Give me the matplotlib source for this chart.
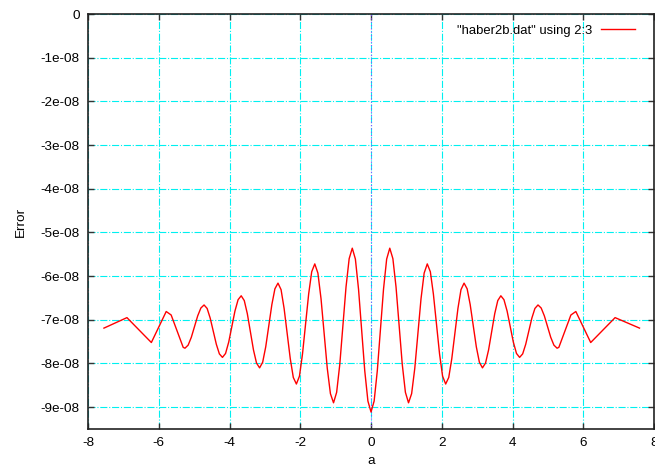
#! /usr/bin/env python3
import matplotlib
matplotlib.use("Agg")
import matplotlib.pyplot as plt
import numpy as np

plt.rcParams['font.family'] = ['Liberation Sans', 'DejaVu Sans']

# values, a vs Error (in units of 1e-8)
a_vals = [
    -7.55, -6.90, -6.21, -5.79, -5.65, -5.31,
    -5.26, -5.17, -5.08, -4.99, -4.90, -4.81,
    -4.72, -4.633, -4.547, -4.46, -4.373, -4.287,
    -4.20, -4.112, -4.023, -3.935, -3.847, -3.758,
    -3.67, -3.583, -3.497, -3.41, -3.323, -3.237,
    -3.15, -3.063, -2.977, -2.89, -2.803, -2.717,
    -2.63, -2.543, -2.457, -2.37, -2.283, -2.197,
    -2.11, -2.023, -1.937, -1.85, -1.763, -1.677,
    -1.59, -1.502, -1.413, -1.325, -1.237, -1.148,
    -1.06, -0.972, -0.883, -0.795, -0.707, -0.618,
    -0.53, -0.442, -0.353, -0.265, -0.177, -0.088,
    0.0,
    0.088, 0.177, 0.265, 0.353, 0.442, 0.53,
    0.618, 0.707, 0.795, 0.883, 0.972, 1.06,
    1.148, 1.237, 1.325, 1.413, 1.502, 1.59,
    1.677, 1.763, 1.85, 1.937, 2.023, 2.11,
    2.197, 2.283, 2.37, 2.457, 2.543, 2.63,
    2.717, 2.803, 2.89, 2.977, 3.063, 3.15,
    3.237, 3.323, 3.41, 3.497, 3.583, 3.67,
    3.758, 3.847, 3.935, 4.023, 4.112, 4.20,
    4.287, 4.373, 4.46, 4.547, 4.633, 4.72,
    4.81, 4.90, 4.99, 5.08, 5.17, 5.26,
    5.31, 5.65, 5.79, 6.21, 6.90, 7.59,
]
err_vals = [
    -7.19, -6.95, -7.52, -6.81, -6.89, -7.63,
    -7.65, -7.58, -7.40, -7.155, -6.91, -6.73,
    -6.66, -6.74, -6.96, -7.26, -7.56, -7.78,
    -7.86, -7.77, -7.51, -7.16, -6.80, -6.54,
    -6.45, -6.56, -6.86, -7.28, -7.69, -7.99,
    -8.10, -7.97, -7.62, -7.13, -6.65, -6.29,
    -6.16, -6.31, -6.74, -7.32, -7.89, -8.32,
    -8.47, -8.29, -7.78, -7.10, -6.41, -5.90,
    -5.72, -5.93, -6.52, -7.31, -8.11, -8.69,
    -8.90, -8.66, -8.02, -7.13, -6.25, -5.60,
    -5.36, -5.61, -6.30, -7.24, -8.17, -8.86,
    -9.11,
    -8.86, -8.17, -7.24, -6.30, -5.61, -5.36,
    -5.60, -6.25, -7.13, -8.02, -8.66, -8.90,
    -8.69, -8.11, -7.31, -6.52, -5.93, -5.72,
    -5.90, -6.41, -7.10, -7.78, -8.29, -8.47,
    -8.32, -7.89, -7.32, -6.74, -6.31, -6.16,
    -6.29, -6.65, -7.13, -7.62, -7.97, -8.10,
    -7.99, -7.69, -7.28, -6.86, -6.56, -6.45,
    -6.54, -6.80, -7.16, -7.51, -7.77, -7.86,
    -7.78, -7.56, -7.26, -6.96, -6.74, -6.66,
    -6.73, -6.91, -7.155, -7.40, -7.58, -7.65,
    -7.63, -6.89, -6.81, -7.52, -6.95, -7.19,
]
x_ticks = [-8, -6, -4, -2, 0, 2, 4, 6, 8]
y_ticks = [0, -1e-08, -2e-08, -3e-08, -4e-08, -5e-08, -6e-08, -7e-08, -8e-08, -9e-08]
y_ticklabels = ['0', '-1e-08', '-2e-08', '-3e-08', '-4e-08', '-5e-08',
                '-6e-08', '-7e-08', '-8e-08', '-9e-08']

fig = plt.figure(figsize=(6.55, 4.68), dpi=100)
ax = fig.add_axes([0.1344, 0.0833, 0.8641, 0.8867])

err = np.array(err_vals) * 1e-8
ax.plot(a_vals, err, color='red', lw=1.0, label='"haber2b.dat" using 2:3', zorder=3)

# zero axis
ax.axvline(0, color='#8a4cff', lw=0.8, ls=(0, (1, 2)), zorder=2)

ax.set_xlim(-8, 8)
ax.set_ylim(-9.5e-08, 0)
ax.set_xticks(x_ticks)
ax.set_xticklabels([str(t) for t in x_ticks])
ax.set_yticks(y_ticks)
ax.set_yticklabels(y_ticklabels)

ax.grid(True, color='#00f0f0', ls='-.', lw=0.8)
ax.tick_params(direction='in', length=4, width=1, top=True, right=True,
               labelsize=9.7, pad=6, color='#333333')
for s in ax.spines.values():
    s.set_linewidth(1.2)
    s.set_color('#222222')

ax.set_xlabel('a', fontsize=9.7, labelpad=4)
ax.set_ylabel('Error', fontsize=9.7, labelpad=10)

ax.legend(loc='upper right', frameon=False, markerfirst=False, fontsize=9.4,
          handlelength=2.6, handletextpad=0.7, borderaxespad=0.4,
          bbox_to_anchor=(0.985, 1.0))

fig.savefig('out.png', dpi=100)
